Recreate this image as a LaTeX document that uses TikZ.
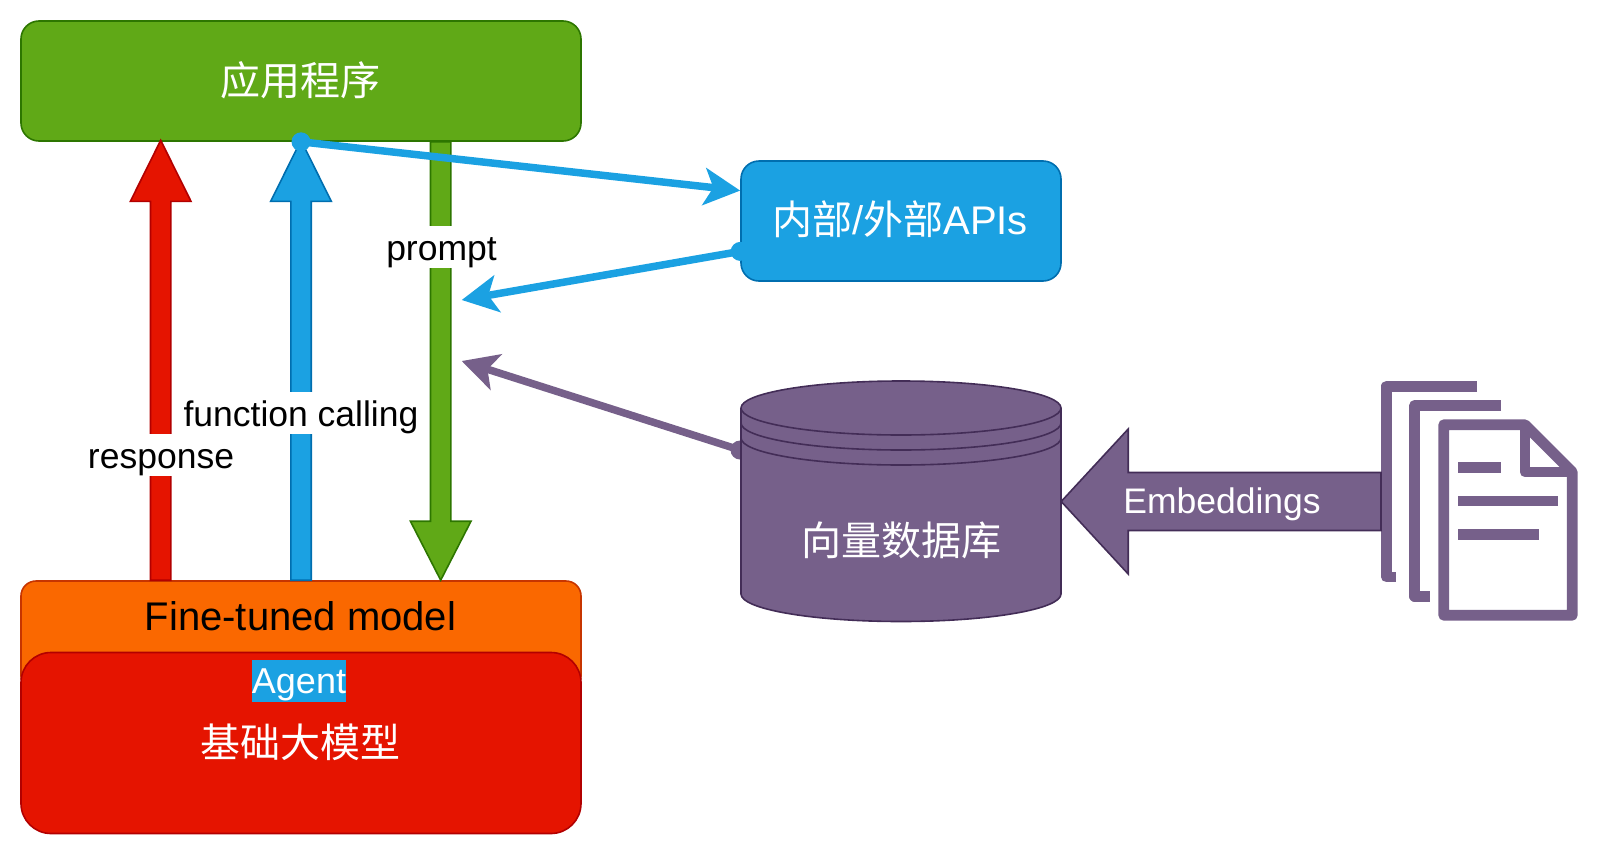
\documentclass[tikz,border=0pt]{standalone}
\usepackage{fontspec}
\setmainfont{Liberation Sans}
\newfontfamily\cjk{Noto Sans CJK SC}
\usetikzlibrary{arrows.meta,calc}
\definecolor{cgreen}{HTML}{60A917}\definecolor{cgreenD}{HTML}{2D7600}
\definecolor{cred}{HTML}{E51400}\definecolor{credD}{HTML}{B20000}
\definecolor{cblue}{HTML}{1BA1E2}\definecolor{cblueD}{HTML}{006EAF}
\definecolor{corange}{HTML}{FA6800}\definecolor{corangeD}{HTML}{C73500}
\definecolor{cpurple}{HTML}{76608A}\definecolor{cpurpleD}{HTML}{432D57}
\newcommand\fs[1]{\fontsize{#1}{#1}\selectfont}
% \fatarrow[style]{from}{to}{shaft half width}{head half width}{head length}
\newcommand\fatarrow[6][]{%
  \coordinate (fah) at ($(#3)!#6pt!(#2)$);
  \draw[#1] ($(#2)!#4pt!90:(#3)$) -- ($(fah)!#4pt!90:(#3)$) -- ($(fah)!#5pt!90:(#3)$)
    -- (#3) -- ($(fah)!#5pt!-90:(#3)$) -- ($(fah)!#4pt!-90:(#3)$) -- ($(#2)!#4pt!-90:(#3)$) -- cycle;}
\tikzset{
  x=1pt,y=-1pt,
  box/.style={rounded corners=#1,inner sep=0pt,line width=1.6pt,anchor=center},
  boxtext/.style={inner sep=0pt,text=white,font=\fs{40}},
  lbl/.style={fill=white,inner sep=0pt,inner xsep=1pt,text height=34pt,text depth=8pt,font=\fs{35.5},text=black},
  greenfat/.style={fill=cgreen,draw=cgreenD,line width=1.6pt},
  redfat/.style={fill=cred,draw=credD,line width=1.6pt},
  bluefat/.style={fill=cblue,draw=cblueD,line width=1.6pt},
  purplefat/.style={fill=cpurple,draw=cpurpleD,line width=1.6pt},
  thin/.style={line width=7.5pt,-{Stealth[length=36pt,width=37pt,inset=9pt]}},
  dot/.style={circle,inner sep=0pt,minimum size=19pt,fill=#1},
  docline/.style={draw=cpurple,line width=10.7pt,line join=round},
  docbar/.style={fill=cpurple},
}
\begin{document}
\begin{tikzpicture}
\useasboundingbox (0,0) rectangle (1600,854);
% main boxes
\node[box=18pt,fill=cgreen,draw=cgreenD,minimum width=560pt,minimum height=120pt] (app) at (301,81) {};
\node[box=15pt,fill=corange,draw=corangeD,minimum width=560pt,minimum height=110pt] (model) at (301,636) {};
\node[box=30pt,fill=cred,draw=credD,minimum width=560pt,minimum height=181pt] (base) at (301,743) {};
\node[box=18pt,fill=cblue,draw=cblueD,minimum width=320pt,minimum height=120pt] (api) at (901,221) {};
% text of the boxes
\node[boxtext] (apptext) at (300.5,80) {\cjk 应用程序};
\node[boxtext,text=black,anchor=base] (modeltext) at (300.5,630) {Fine-tuned model};
\node[lbl,fill=cblue,text=white,inner xsep=0pt,minimum width=94pt,font=\fs{36}] (agent) at (299,680.8) {Agent};
\node[boxtext] (basetext) at (300,742) {\cjk 基础大模型};
\node[boxtext] (apitext) at (900,219) {{\cjk 内部}/{\cjk 外部}APIs};
% block arrows
\coordinate (r0) at ($(model.north west)+(140.5,0)$);
\coordinate (r1) at ($(app.south west)+(140.5,-1.5)$);
\coordinate (b0) at (model.north);
\coordinate (b1) at ($(app.south)+(0,-1.5)$);
\coordinate (g0) at ($(app.south west)+(420.5,0)$);
\coordinate (g1) at ($(model.north west)+(420.5,0)$);
\fatarrow[redfat]{r0}{r1}{10.2}{30.3}{61}
\fatarrow[bluefat]{b0}{b1}{10.2}{30.3}{61}
\fatarrow[greenfat]{g0}{g1}{10.2}{30.3}{59}
\node[lbl] (lresponse) at (161,455) {response};
\node[lbl] (lfunction) at (301,413) {function calling};
\node[lbl] (lprompt) at (441.5,247) {prompt};
% cylinder
\coordinate (t1) at (461.7,300);
\coordinate (t2) at (461.7,361);
\node[dot=cpurple] (d3) at (740,450) {};
\draw[cpurple,thin] (d3.center) -- (t2);
\node[inner sep=0pt,minimum width=320pt,minimum height=240pt] (db) at (901,501.5) {};
\draw[fill=cpurple,draw=cpurpleD,line width=1.6pt] (741,408) arc[x radius=160pt,y radius=27pt,start angle=180,end angle=0] -- (1061,594) arc[x radius=160pt,y radius=27.5pt,start angle=0,end angle=-180] -- cycle;
\foreach \yy in {408,423,438}
  \draw[draw=cpurpleD,line width=1.6pt] (741,\yy) arc[x radius=160pt,y radius=27pt,start angle=180,end angle=360];
\node[boxtext] (dbtext) at (901,540) {\cjk 向量数据库};
% documents
\node[inner sep=0pt,minimum width=139pt,minimum height=241pt] (docs) at (1471,501) {};
\draw[docline] (1477,386.3) -- (1386.3,386.3) -- (1386.3,577) -- (1395.7,577);
\draw[docline] (1501,405.3) -- (1414.8,405.3) -- (1414.8,596.3) -- (1429.7,596.3);
\draw[docline,fill=white] (1443.7,424.7) -- (1525,424.7) -- (1572.3,472) -- (1572.3,615.3) -- (1443.7,615.3) -- cycle;
\draw[docline] (1525,424.7) -- (1525,472) -- (1572.3,472);
\fill[docbar] (1458,462) rectangle (1501,472.7);
\fill[docbar] (1458,495.7) rectangle (1558.3,506.3);
\fill[docbar] (1458,529) rectangle (1539,539.7);
% Embeddings arrow
\coordinate (e0) at (1381,501.5);
\coordinate (e1) at (db.east);
\fatarrow[purplefat]{e0}{e1}{29}{72.5}{67}
\node[inner sep=0pt,text=white,font=\fs{35.5},anchor=base] (emb) at (1222,513) {Embeddings};
% thin blue connectors
\coordinate (a1) at ($(api.north west)!0.25!(api.south west)$);
\coordinate (a2) at ($(api.north west)!0.75!(api.south west)$);
\node[dot=cblue] (d1) at (app.south) {};
\draw[cblue,thin] (d1.center) -- (a1);
\node[dot=cblue] (d2) at (a2) {};
\draw[cblue,thin] (d2.center) -- (t1);
\end{tikzpicture}
\end{document}
